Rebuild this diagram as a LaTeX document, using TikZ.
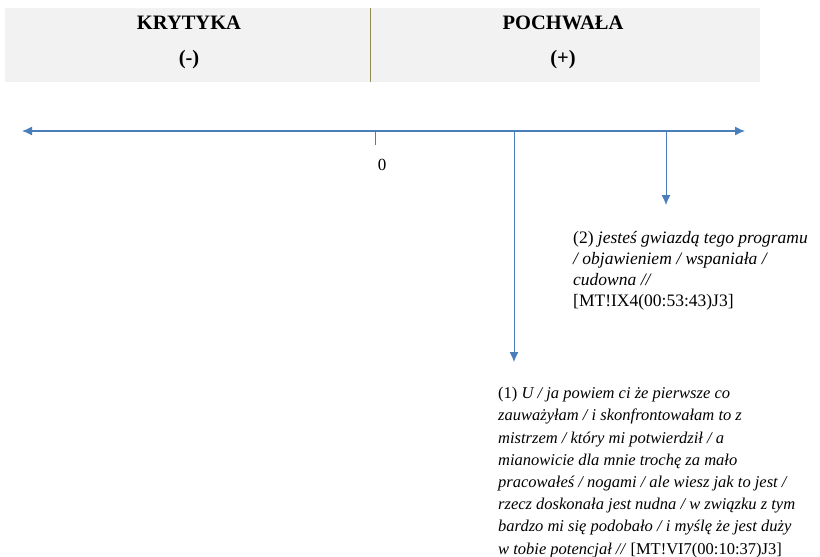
\documentclass[tikz,border=0pt]{standalone}
\usepackage{fontspec}
\setmainfont{Liberation Serif}
\usetikzlibrary{positioning,arrows.meta}
\definecolor{axisblue}{HTML}{4A7EBB}
\definecolor{headgray}{HTML}{F2F2F2}
\definecolor{divolive}{HTML}{948A54}

\begin{document}
\begin{tikzpicture}[x=1pt, y=-1pt, >={Latex[length=10pt,width=9pt]},
  head/.style={font=\fontsize{20.5}{24}\selectfont\bfseries},
  quote/.style={align=left, anchor=north west, inner sep=0pt},
  axis/.style={axisblue, line width=1.3pt}]
\useasboundingbox (0,0) rectangle (820,557);
% header band
\fill[headgray] (5,8) rectangle (760,82);
\draw[divolive, line width=1pt] (370,8) -- (370,82);
\node[head] (krit) at (189,23) {KRYTYKA};
\node[head] (minus) at (189,60) {(-)};
\node[head] (pochw) at (563,23) {POCHWAŁA};
\node[head] (plus) at (563,60) {(+)};
% axis
\coordinate (left) at (22,131);
\coordinate (right) at (745,131);
\draw[axis, <->] (left) -- (right);
\coordinate (zero) at (375,131);
\coordinate (zerotick) at (375,145);
\draw[axisblue] (zero) -- (zerotick);
\node[font=\fontsize{17}{20}\selectfont] (zerolab) at (382,165) {0};
% the two examples
\coordinate (p1) at (514,131);
\coordinate (e1) at (514,362);
\coordinate (p2) at (666,131);
\coordinate (e2) at (666,205);
\draw[axis, line width=1pt, ->] (p1) -- (e1);
\draw[axis, line width=1pt, ->] (p2) -- (e2);
\node[quote, font=\fontsize{17.5}{21}\selectfont] (ex2) at (573,231) {(2) \textit{jesteś gwiazdą tego programu}\\
\textit{/ objawieniem / wspaniała /}\\
\textit{cudowna //}\\
{[}MT!IX4(00:53:43)J3{]}};
\node[quote, font=\fontsize{16.5}{22.2}\selectfont] (ex1) at (498,387) {(1) \textit{U / ja powiem ci że pierwsze co}\\
\textit{zauważyłam / i skonfrontowałam to z}\\
\textit{mistrzem / który mi potwierdził / a}\\
\textit{mianowicie dla mnie trochę za mało}\\
\textit{pracowałeś / nogami / ale wiesz jak to jest /}\\
\textit{rzecz doskonała jest nudna / w związku z tym}\\
\textit{bardzo mi się podobało / i myślę że jest duży}\\
\textit{w tobie potencjał //} [MT!VI7(00:10:37)J3]};
\end{tikzpicture}
\end{document}
